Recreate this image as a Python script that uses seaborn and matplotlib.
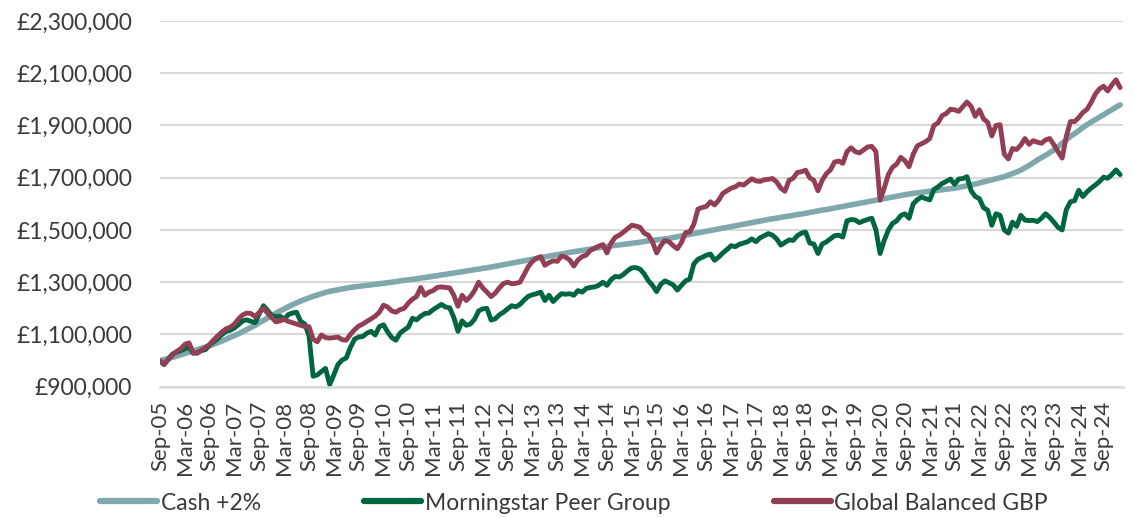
import matplotlib
matplotlib.use('Agg')
import matplotlib.pyplot as plt
import matplotlib.ticker as mticker
import pandas as pd
import seaborn as sns

# monthly values, Sep-05 .. Jan-25, in £000s
cash = [1000, 1004, 1008, 1012, 1017, 1022, 1027, 1032, 1037, 1042, 1047, 1052,
        1057, 1063, 1069, 1075, 1082, 1089, 1096, 1103, 1111, 1119, 1127, 1135,
        1145, 1154, 1163, 1172, 1181, 1190, 1198, 1206, 1214, 1221, 1228, 1234,
        1240, 1246, 1251, 1256, 1261, 1265, 1268, 1271, 1274, 1277, 1280, 1282,
        1284, 1286, 1288, 1290, 1292, 1294, 1296, 1298, 1300, 1302, 1305, 1307,
        1309, 1311, 1313, 1316, 1318, 1320, 1323, 1325, 1328, 1330, 1333, 1335,
        1338, 1340, 1343, 1345, 1348, 1350, 1353, 1355, 1358, 1361, 1364, 1367,
        1370, 1373, 1376, 1379, 1382, 1385, 1388, 1391, 1394, 1397, 1400, 1403,
        1405, 1408, 1411, 1414, 1417, 1419, 1422, 1424, 1427, 1429, 1432, 1434,
        1437, 1439, 1441, 1443, 1445, 1447, 1449, 1451, 1453, 1456, 1458, 1460,
        1462, 1464, 1466, 1468, 1471, 1474, 1477, 1480, 1483, 1486, 1489, 1492,
        1495, 1498, 1501, 1504, 1507, 1510, 1513, 1516, 1519, 1522, 1525, 1528,
        1531, 1534, 1537, 1540, 1543, 1545, 1548, 1551, 1553, 1556, 1559, 1561,
        1564, 1567, 1570, 1573, 1576, 1578, 1581, 1584, 1587, 1590, 1593, 1596,
        1599, 1602, 1605, 1608, 1611, 1614, 1617, 1620, 1623, 1626, 1629, 1632,
        1635, 1638, 1640, 1642, 1644, 1646, 1648, 1650, 1652, 1654, 1656, 1658,
        1660, 1663, 1666, 1669, 1672, 1676, 1680, 1684, 1688, 1692, 1696, 1700,
        1704, 1710, 1716, 1722, 1729, 1738, 1747, 1757, 1768, 1777, 1786, 1796,
        1806, 1819, 1832, 1845, 1858, 1869, 1880, 1892, 1903, 1913, 1922, 1932,
        1941, 1951, 1960, 1970, 1979]

peer = [998, 985, 1005, 1025, 1032, 1038, 1045, 1052, 1028, 1030, 1038, 1042,
        1060, 1072, 1085, 1100, 1112, 1116, 1125, 1138, 1152, 1156, 1150, 1145,
        1180, 1210, 1192, 1172, 1168, 1170, 1158, 1176, 1182, 1185, 1150, 1140,
        1095, 940, 945, 958, 970, 908, 945, 985, 1002, 1010, 1050, 1082,
        1090, 1092, 1105, 1112, 1098, 1130, 1137, 1110, 1088, 1078, 1105, 1117,
        1128, 1162, 1156, 1170, 1180, 1182, 1195, 1205, 1215, 1205, 1202, 1165,
        1112, 1152, 1135, 1140, 1158, 1190, 1198, 1200, 1155, 1160, 1175, 1185,
        1198, 1210, 1206, 1215, 1232, 1246, 1252, 1256, 1262, 1230, 1250, 1226,
        1242, 1256, 1254, 1256, 1250, 1268, 1262, 1276, 1280, 1282, 1288, 1300,
        1288, 1310, 1322, 1320, 1330, 1344, 1355, 1356, 1350, 1332, 1306, 1288,
        1264, 1292, 1305, 1298, 1290, 1270, 1288, 1305, 1312, 1370, 1388, 1395,
        1403, 1408, 1384, 1396, 1412, 1425, 1440, 1436, 1445, 1450, 1455, 1466,
        1455, 1470, 1478, 1486, 1480, 1466, 1442, 1452, 1462, 1460, 1478, 1488,
        1492, 1450, 1446, 1410, 1446, 1454, 1466, 1478, 1480, 1473, 1535, 1540,
        1538, 1528, 1535, 1540, 1545, 1500, 1410, 1460, 1500, 1525, 1535, 1555,
        1562, 1545, 1600, 1616, 1626, 1620, 1615, 1655, 1665, 1678, 1686, 1695,
        1675, 1695, 1697, 1704, 1650, 1628, 1620, 1585, 1576, 1518, 1562, 1556,
        1500, 1488, 1530, 1514, 1556, 1538, 1536, 1537, 1532, 1545, 1562, 1548,
        1530, 1510, 1500, 1578, 1608, 1612, 1652, 1628, 1646, 1660, 1672, 1685,
        1702, 1698, 1712, 1730, 1712]

gb = [998, 985, 1005, 1020, 1035, 1045, 1062, 1068, 1030, 1028, 1040, 1050,
      1062, 1080, 1095, 1110, 1122, 1128, 1140, 1160, 1175, 1182, 1180, 1168,
      1185, 1200, 1182, 1165, 1148, 1152, 1158, 1150, 1145, 1140, 1135, 1130,
      1130, 1082, 1072, 1098, 1088, 1086, 1088, 1090, 1080, 1078, 1100, 1118,
      1132, 1140, 1150, 1160, 1170, 1185, 1212, 1205, 1190, 1185, 1195, 1200,
      1220, 1235, 1245, 1280, 1250, 1262, 1268, 1280, 1282, 1280, 1278, 1250,
      1208, 1250, 1230, 1245, 1268, 1300, 1278, 1262, 1245, 1258, 1278, 1295,
      1300, 1294, 1296, 1300, 1330, 1360, 1380, 1392, 1398, 1365, 1375, 1382,
      1380, 1400, 1396, 1385, 1362, 1385, 1398, 1404, 1422, 1430, 1438, 1444,
      1412, 1450, 1472, 1480, 1492, 1505, 1518, 1515, 1510, 1488, 1480, 1455,
      1412, 1440, 1460, 1455, 1440, 1428, 1452, 1490, 1492, 1522, 1580, 1586,
      1590, 1608, 1596, 1614, 1640, 1650, 1660, 1665, 1676, 1672, 1684, 1696,
      1688, 1686, 1692, 1694, 1697, 1684, 1660, 1648, 1690, 1698, 1720, 1723,
      1729, 1700, 1690, 1650, 1690, 1715, 1730, 1760, 1764, 1755, 1800, 1815,
      1800, 1795, 1806, 1818, 1820, 1800, 1614, 1660, 1712, 1740, 1752, 1778,
      1765, 1742, 1790, 1822, 1830, 1838, 1850, 1900, 1910, 1938, 1946, 1962,
      1960, 1954, 1972, 1990, 1973, 1935, 1960, 1925, 1912, 1860, 1900, 1903,
      1790, 1772, 1812, 1808, 1825, 1850, 1828, 1842, 1836, 1832, 1845, 1850,
      1826, 1800, 1775, 1858, 1915, 1915, 1930, 1950, 1962, 1988, 2020, 2040,
      2050, 2032, 2055, 2075, 2045]

months = pd.date_range('2005-09-01', periods=len(cash), freq='MS')
df = pd.DataFrame({'m': range(len(months)),
                   'cash': [v * 1000 for v in cash],
                   'peer': [v * 1000 for v in peer],
                   'gb': [v * 1000 for v in gb]})

sns.set_style('white')
plt.rcParams['font.family'] = ['Lato', 'DejaVu Sans']
txt = '#3a3a3a'

fig = plt.figure(figsize=(11.33, 5.18), dpi=100)
ax = fig.add_axes([160 / 1133, 1 - 386.7 / 518, 963 / 1133, 365.7 / 518])

sns.lineplot(data=df, x='m', y='cash', color='#7fa8ad', lw=4.0, label='Cash +2%', ax=ax)
sns.lineplot(data=df, x='m', y='peer', color='#006640', lw=3.5, label='Morningstar Peer Group', ax=ax)
sns.lineplot(data=df, x='m', y='gb', color='#923f55', lw=3.5, label='Global Balanced GBP', ax=ax)

ax.set_ylim(900000, 2300000)
ax.set_yticks(range(900000, 2300001, 200000))
ax.yaxis.set_major_formatter(mticker.FuncFormatter(lambda v, p: '£{:,.0f}'.format(v)))
ax.set_xlim(0, 232.7)
tick_pos = list(range(0, len(months), 6))
ax.set_xticks(tick_pos)
ax.set_xticklabels([months[i].strftime('%b-%y') for i in tick_pos], rotation=90)
ax.set_xlabel('')
ax.set_ylabel('')

ax.grid(axis='y', color='#d9d9d9', lw=1.5)
ax.set_axisbelow(True)
for s in ['top', 'right', 'left']:
    ax.spines[s].set_visible(False)
ax.spines['bottom'].set_color('#d9d9d9')
ax.spines['bottom'].set_linewidth(1.8)
ax.tick_params(axis='y', length=0, pad=20, labelsize=16.5, labelcolor=txt)
ax.tick_params(axis='x', length=7, width=1.3, color='#d9d9d9', pad=3, labelsize=16, labelcolor=txt)

ax.legend(loc='center', bbox_to_anchor=(574 / 1133, 1 - 503 / 518), bbox_transform=fig.transFigure,
          ncol=3, frameon=False, handlelength=2.5, handletextpad=0.15, columnspacing=4.5,
          fontsize=16.5, labelcolor=txt)
for line in ax.get_legend().get_lines():
    line.set_linewidth(4.5)

fig.savefig('out.png', dpi=100)
